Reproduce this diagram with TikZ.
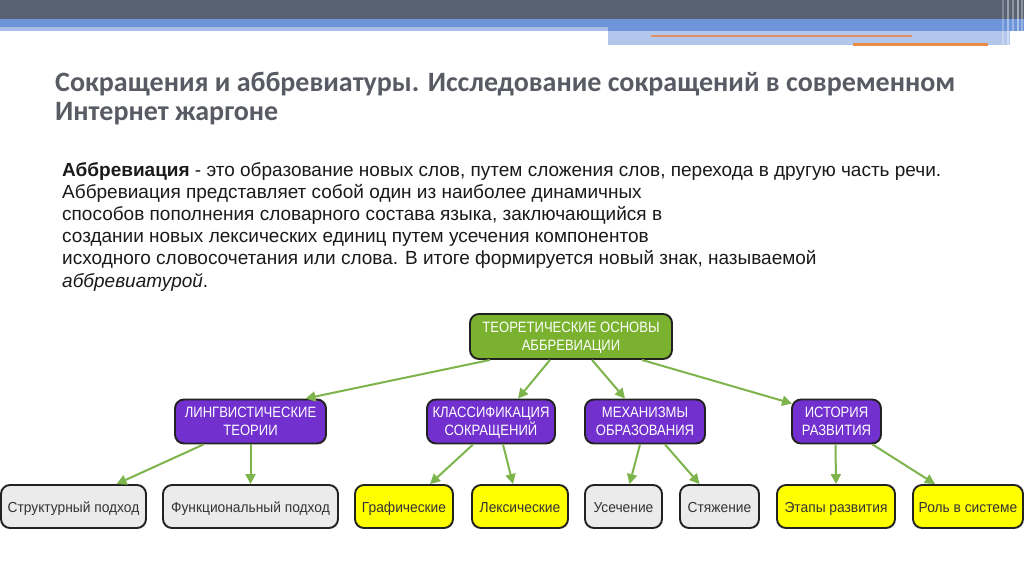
\documentclass[tikz,border=0pt]{standalone}
\usepackage{fontspec}
\setmainfont{Liberation Sans}
\newfontfamily\titlefont{Carlito}
\newfontfamily\diagfont[FakeStretch=0.87]{Liberation Sans}
\newfontfamily\leaffont[FakeStretch=0.95]{Liberation Sans}
\usetikzlibrary{arrows.meta}
\definecolor{darkbar}{HTML}{596273}
\definecolor{blueband}{HTML}{6E95D9}
\definecolor{paleband}{HTML}{A9BFE8}
\definecolor{lightblue}{HTML}{B3C6EB}
\definecolor{orangeA}{HTML}{E29066}
\definecolor{orangeB}{HTML}{EC8B44}
\definecolor{titlegray}{HTML}{585B63}
\definecolor{rootgreen}{HTML}{7AB230}
\definecolor{arrowgreen}{HTML}{7DB44B}
\definecolor{violet}{HTML}{7230CF}
\definecolor{leafyellow}{HTML}{FFFF00}
\definecolor{leafgray}{HTML}{EBEBEB}
\definecolor{boxborder}{HTML}{222222}
\definecolor{bodytext}{HTML}{1A1A1A}
\definecolor{leaftext}{HTML}{333333}
\newcommand\topstrutx{\rule{0pt}{12pt}}
\newcommand\botstrutx{\rule[-3pt]{0pt}{3pt}}
\tikzset{
  box/.style={draw=boxborder, line width=1.9pt, rounded corners=9pt, align=center, inner sep=0pt},
  rootbox/.style={box, fill=rootgreen, text=white, font=\diagfont\fontsize{15}{18}\selectfont, minimum height=45pt},
  midbox/.style={box, fill=violet, text=white, font=\diagfont\fontsize{15}{18}\selectfont, minimum height=44pt},
  leaf/.style={box, text=leaftext, font=\leaffont\fontsize{14.5}{16}\selectfont, minimum height=43pt, text height=14pt, text depth=3pt},
  greyleaf/.style={leaf, fill=leafgray},
  yellowleaf/.style={leaf, fill=leafyellow},
  arr/.style={draw=arrowgreen, line width=2pt, -{Triangle[length=10pt,width=10pt]}},
  ttl/.style={anchor=base west, inner sep=0pt, text=titlegray, font=\titlefont\bfseries\fontsize{28}{29}\selectfont},
  para/.style={anchor=base west, inner sep=0pt, text=bodytext, font=\fontsize{19}{22}\selectfont}
}
\begin{document}
\begin{tikzpicture}[x=1pt,y=-1pt]
\path[use as bounding box, fill=white] (0,0) rectangle (1024,574);
% top decoration
\fill[darkbar] (0,0) rectangle (1024,19);
\fill[blueband] (0,19) rectangle (1024,27);
\fill[paleband] (0,27) rectangle (1024,31);
\fill[blueband] (608,27) rectangle (1024,31);
\fill[lightblue] (608,31) rectangle (1010,45);
\draw[orangeA, line width=2pt] (651,36) -- (912,36);
\draw[orangeB, line width=3pt] (853,44) -- (988,44);
\foreach \xx/\oo in {1003/0.25,1008/0.4,1013/0.3,1018/0.45,1022/0.3}
  \draw[white, opacity=\oo, line width=1.5pt] (\xx,0) -- (\xx,45);
% title
\node[ttl] (t1) at (55,91) {Сокращения и аббревиатуры. Исследование сокращений в современном};
\node[ttl] (t2) at (55,120) {Интернет жаргоне};
% paragraph
\node[para] (p1) at (62,176) {\textbf{Аббревиация} - это образование новых слов, путем сложения слов, перехода в другую часть речи.};
\node[para] (p2) at (62,198) {Аббревиация представляет собой один из наиболее динамичных};
\node[para] (p3) at (62,220) {способов пополнения словарного состава языка, заключающийся в};
\node[para] (p4) at (62,242) {создании новых лексических единиц путем усечения компонентов};
\node[para] (p5) at (62,264) {исходного словосочетания или слова. В итоге формируется новый знак, называемой};
\node[para] (p6) at (62,287) {\textit{аббревиатурой}.};
% diagram nodes
\node[rootbox, minimum width=202pt] (root) at (571,336.5) {\topstrutx ТЕОРЕТИЧЕСКИЕ ОСНОВЫ\\АББРЕВИАЦИИ\botstrutx};
\node[midbox, minimum width=151pt] (lt) at (250.5,421.5) {\topstrutx ЛИНГВИСТИЧЕСКИЕ\\ТЕОРИИ\botstrutx};
\node[midbox, minimum width=128pt] (cl) at (491,421.5) {\topstrutx КЛАССИФИКАЦИЯ\\СОКРАЩЕНИЙ\botstrutx};
\node[midbox, minimum width=120pt] (me) at (645,421.5) {\topstrutx МЕХАНИЗМЫ\\ОБРАЗОВАНИЯ\botstrutx};
\node[midbox, minimum width=89pt] (hi) at (836.5,421.5) {\topstrutx ИСТОРИЯ\\РАЗВИТИЯ\botstrutx};
\node[greyleaf, minimum width=145pt] (s1) at (73.5,506.5) {Структурный подход};
\node[greyleaf, minimum width=175pt] (s2) at (250.5,506.5) {Функциональный подход};
\node[yellowleaf, minimum width=98pt] (g1) at (404,506.5) {Графические};
\node[yellowleaf, minimum width=96pt] (l1) at (520,506.5) {Лексические};
\node[greyleaf, minimum width=77pt] (u1) at (623.5,506.5) {Усечение};
\node[greyleaf, minimum width=79pt] (c1) at (719.5,506.5) {Стяжение};
\node[yellowleaf, minimum width=118pt] (e1) at (836,506.5) {Этапы развития};
\node[yellowleaf, minimum width=110pt] (r1) at (968,506.5) {Роль в системе};
% connectors
\draw[arr] ([xshift=-81pt]root.south) -- ([xshift=55pt]lt.north);
\draw[arr] ([xshift=-21pt]root.south) -- ([xshift=27pt]cl.north);
\draw[arr] ([xshift=21pt]root.south) -- ([xshift=-20pt]me.north);
\draw[arr] ([xshift=71pt]root.south) -- ([xshift=1pt,yshift=-5pt]hi.north west);
\draw[arr] ([xshift=-47pt]lt.south) -- ([xshift=43pt]s1.north);
\draw[arr] (lt.south) -- (s2.north);
\draw[arr] ([xshift=-18pt]cl.south) -- ([xshift=26pt]g1.north);
\draw[arr] ([xshift=12pt]cl.south) -- ([xshift=-7pt]l1.north);
\draw[arr] ([xshift=-5pt]me.south) -- ([xshift=6pt]u1.north);
\draw[arr] ([xshift=20pt]me.south) -- ([xshift=-20pt]c1.north);
\draw[arr] ([xshift=-1pt]hi.south) -- (e1.north);
\draw[arr] ([xshift=36pt]hi.south) -- ([xshift=-33pt]r1.north);
\end{tikzpicture}
\end{document}
